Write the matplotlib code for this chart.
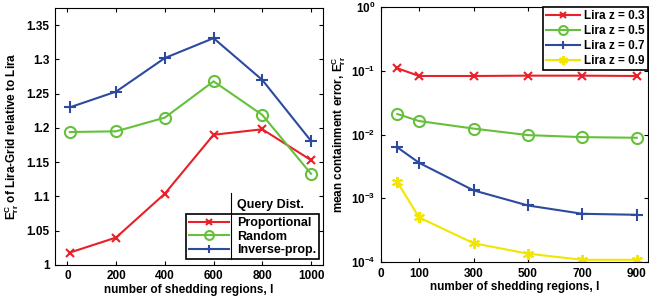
import matplotlib.pyplot as plt

plt.rcParams['font.family'] = ['Liberation Sans', 'DejaVu Sans']
plt.rcParams['font.weight'] = 'bold'
plt.rcParams['mathtext.fontset'] = 'custom'
plt.rcParams['mathtext.rm'] = 'Liberation Sans:bold'
plt.rcParams['mathtext.it'] = 'Liberation Sans:bold'
plt.rcParams['mathtext.bf'] = 'Liberation Sans:bold'

# left panel: relative error of Lira-Grid
regions_left = [10, 200, 400, 600, 800, 1000]
proportional = [1.018, 1.040, 1.104, 1.190, 1.198, 1.153]
random_q = [1.194, 1.195, 1.215, 1.268, 1.219, 1.133]
inverse_prop = [1.230, 1.253, 1.302, 1.331, 1.270, 1.181]

# right panel: mean containment error of Lira
regions_right = [20, 100, 300, 500, 700, 900]
lira_z03 = [0.110, 0.083, 0.083, 0.084, 0.084, 0.083]
lira_z05 = [0.021, 0.0163, 0.0124, 0.0098, 0.0091, 0.0089]
lira_z07 = [0.0063, 0.0036, 0.00133, 0.00077, 0.00057, 0.00055]
lira_z09 = [0.0018, 0.00050, 0.000197, 0.000135, 0.000108, 0.000108]

red = '#e8202a'
green = '#66c03c'
blue = '#2c4a9e'
yellow = '#f2e600'

fig = plt.figure(figsize=(6.49, 2.97), dpi=100)
ax1 = fig.add_axes([0.085, 0.108, 0.413, 0.865])
ax2 = fig.add_axes([0.587, 0.118, 0.411, 0.858])

fs = 8.5
lfs = 9
ax1.plot(regions_left, proportional, color=red, marker='x', ms=6, mew=1.5, lw=1.5, label='Proportional')
ax1.plot(regions_left, random_q, color=green, marker='o', ms=8, mfc='none', mew=1.5, lw=1.5, label='Random')
ax1.plot(regions_left, inverse_prop, color=blue, marker='+', ms=8, mew=1.5, lw=1.5, label='Inverse-prop.')
ax1.set_xlim(-50, 1050)
ax1.set_ylim(1.0, 1.375)
ax1.set_xticks([0, 200, 400, 600, 800, 1000])
ax1.set_yticks([1, 1.05, 1.1, 1.15, 1.2, 1.25, 1.3, 1.35])
ax1.set_yticklabels(['1', '1.05', '1.1', '1.15', '1.2', '1.25', '1.3', '1.35'])
ax1.set_xlabel('number of shedding regions, l', fontsize=fs, fontweight='bold', labelpad=1)
ax1.set_ylabel(r'E$_{rr}^{C}$ of Lira-Grid relative to Lira', fontsize=fs, fontweight='bold', labelpad=4)
leg1 = ax1.legend(loc='lower right', bbox_to_anchor=(0.985, 0.023), borderaxespad=0, fontsize=lfs,
                  handlelength=3.2, fancybox=False, edgecolor='black', framealpha=1, markerscale=0.8,
                  borderpad=0.25, labelspacing=0.1, handletextpad=0.6)
leg1.get_frame().set_linewidth(1.2)
ax1.text(0.68, 0.235, 'Query Dist.', transform=ax1.transAxes, fontsize=lfs, fontweight='bold', va='center')
ax1.plot([0.655, 0.655], [0.023, 0.28], transform=ax1.transAxes, color='black', lw=0.8, zorder=10, clip_on=False)

ax2.plot(regions_right, lira_z03, color=red, marker='x', ms=6, mew=1.5, lw=1.5, label='Lira z = 0.3')
ax2.plot(regions_right, lira_z05, color=green, marker='o', ms=8, mfc='none', mew=1.5, lw=1.5, label='Lira z = 0.5')
ax2.plot(regions_right, lira_z07, color=blue, marker='+', ms=8, mew=1.5, lw=1.5, label='Lira z = 0.7')
ax2.plot(regions_right, lira_z09, color=yellow, marker=(6, 2, 0), ms=8, mew=1.5, lw=1.5, label='Lira z = 0.9')
ax2.set_yscale('log')
ax2.set_ylim(1e-4, 1)
ax2.set_xlim(-40, 940)
ax2.set_xticks([-40, 100, 300, 500, 700, 900])
ax2.set_xticklabels(['0', '100', '300', '500', '700', '900'])
ax2.minorticks_off()
ax2.set_xlabel('number of shedding regions, l', fontsize=fs, fontweight='bold', labelpad=1)
ax2.set_ylabel(r'mean containment error, E$_{rr}^{C}$', fontsize=fs, fontweight='bold', labelpad=2)
leg2 = ax2.legend(loc='upper right', borderaxespad=0, fontsize=fs, handlelength=2.9, fancybox=False,
                  edgecolor='black', framealpha=1, borderpad=0.25, labelspacing=0.25, handletextpad=0.35,
                  markerscale=0.8)
leg2.get_frame().set_linewidth(1.2)

for ax in (ax1, ax2):
    ax.tick_params(direction='in', top=True, right=True, labelsize=fs, length=3, pad=4)
    for lab in ax.get_xticklabels() + ax.get_yticklabels():
        lab.set_fontweight('bold')
    for sp in ax.spines.values():
        sp.set_linewidth(0.8)

fig.savefig('out.png', dpi=100)
